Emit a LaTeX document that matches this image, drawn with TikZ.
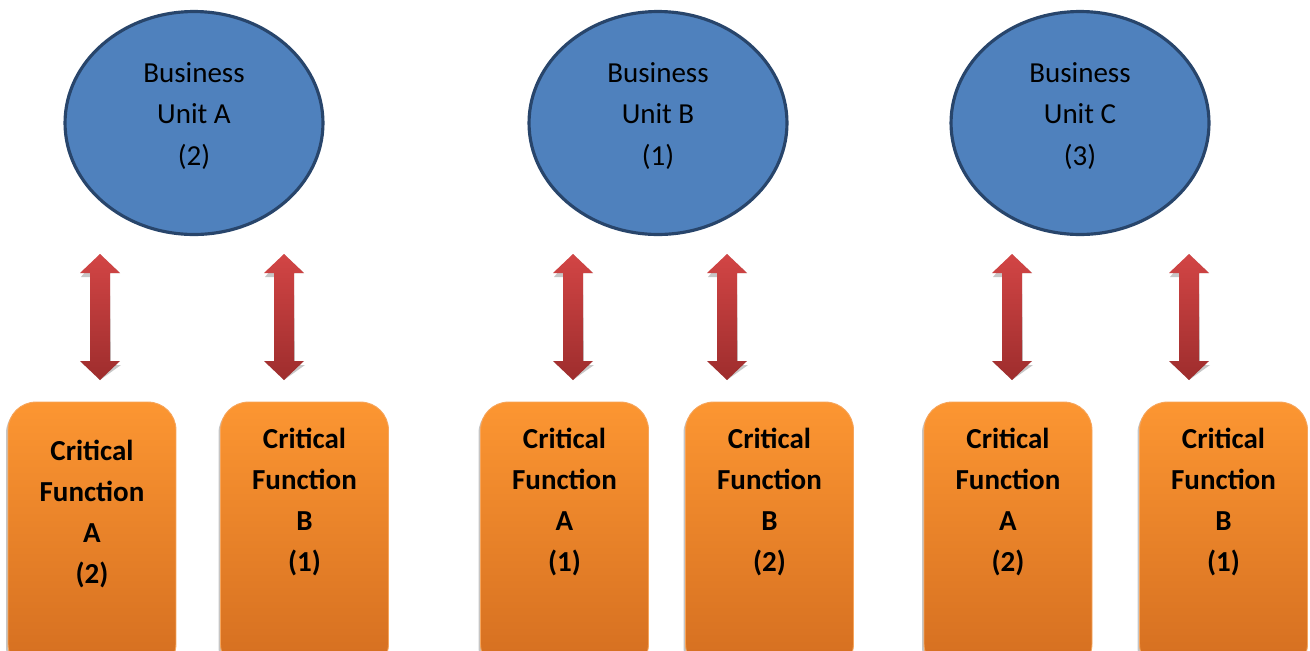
\documentclass[tikz,border=0pt]{standalone}
\usepackage{fontspec}
\setmainfont{Carlito}
\usetikzlibrary{shadows,shapes.geometric}

\definecolor{unitfill}{HTML}{4F81BD}
\definecolor{unitline}{HTML}{28456B}
\definecolor{cftop}{HTML}{FC9632}
\definecolor{cfbot}{HTML}{D46E20}
\definecolor{cfline}{HTML}{F6A55C}
\definecolor{artop}{HTML}{D24545}
\definecolor{arbot}{HTML}{9E2D2D}

\tikzset{
  unit/.style={ellipse, fill=unitfill, draw=unitline, line width=1.8pt,
    minimum width=5.16cm, minimum height=4.46cm, inner sep=0pt},
  unittext/.style={align=center, font=\fontsize{16.5}{23.8}\selectfont},
  cfbox/.style={rectangle, rounded corners=0.56cm, top color=cftop, bottom color=cfbot,
    draw=cfline, line width=0.5pt, minimum width=3.36cm, minimum height=5.4cm,
    drop shadow={shadow xshift=-0.04cm, shadow yshift=-0.06cm, fill=black!45, opacity=.5}},
  cftext/.style={align=center, font=\bfseries\fontsize{16.5}{23.2}\selectfont},
  arrowbody/.style={top color=artop, bottom color=arbot},
  arrowshade/.style={fill=black!40, opacity=.55},
}

% vertical double-headed block arrow: name, x, top y, bottom y
\newcommand\linkarrow[4]{%
  \coordinate (#1-top) at (#2,#3);
  \coordinate (#1-bot) at (#2,#4);
  \fill[arrowshade, shift={(1,4)}] (#1-top) -- ++(20,19) -- ++(-10,0) -- (#2+10,#4-19) -- ++(10,0)
    -- (#1-bot) -- ++(-20,-19) -- ++(10,0) -- (#2-10,#3+19) -- ++(-10,0) -- cycle;
  \shade[arrowbody] (#1-top) -- ++(20,19) -- ++(-10,0) -- (#2+10,#4-19) -- ++(10,0)
    -- (#1-bot) -- ++(-20,-19) -- ++(10,0) -- (#2-10,#3+19) -- ++(-10,0) -- cycle;
}

\begin{document}
\begin{tikzpicture}[x=0.02cm, y=-0.02cm]
\useasboundingbox (0,0) rectangle (1310,650);
\clip (0,0) rectangle (1310,650);

% business units
\node[unit] (buA) at (194,123) {};
\node[unit] (buB) at (658,123) {};
\node[unit] (buC) at (1080,123) {};
\node[unittext] (tA) at (194,116) {Business\\Unit A\\(2)};
\node[unittext] (tB) at (658,116) {Business\\Unit B\\(1)};
\node[unittext] (tC) at (1080,116) {Business\\Unit C\\(3)};

% links between units and functions
\linkarrow{l1}{100}{254}{380}
\linkarrow{l2}{284}{254}{380}
\linkarrow{l3}{573}{254}{380}
\linkarrow{l4}{727}{254}{380}
\linkarrow{l5}{1012}{254}{380}
\linkarrow{l6}{1189}{254}{380}

% critical functions
\node[cfbox] (f1) at (92,537) {};
\node[cfbox] (f2) at (304.5,537) {};
\node[cfbox] (f3) at (564.5,537) {};
\node[cfbox] (f4) at (769.5,537) {};
\node[cfbox] (f5) at (1008,537) {};
\node[cfbox] (f6) at (1223.5,537) {};

\node[cftext] (g1) at (92,514) {Critical\\Function\\A\\(2)};
\node[cftext] (g2) at (304.5,502) {Critical\\Function\\B\\(1)};
\node[cftext] (g3) at (564.5,502) {Critical\\Function\\A\\(1)};
\node[cftext] (g4) at (769.5,502) {Critical\\Function\\B\\(2)};
\node[cftext] (g5) at (1008,502) {Critical\\Function\\A\\(2)};
\node[cftext] (g6) at (1223.5,502) {Critical\\Function\\B\\(1)};
\end{tikzpicture}
\end{document}
